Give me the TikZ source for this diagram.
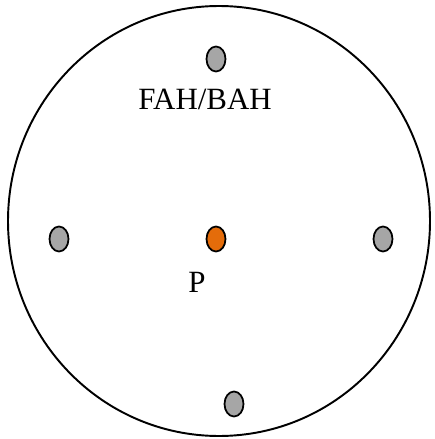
\documentclass[tikz,border=0pt]{standalone}
\usepackage{fontspec}
\setmainfont{Liberation Serif}
\usetikzlibrary{shapes.geometric}

\definecolor{dotgray}{RGB}{166,166,166}
\definecolor{dotorange}{RGB}{228,108,10}

\tikzset{
  hole/.style={draw, ellipse, line width=1pt, fill=dotgray, minimum width=0.38cm, minimum height=0.5cm, inner sep=0pt},
  lbl/.style={font=\fontsize{17.6}{20}\selectfont, anchor=base, inner sep=0pt}
}

\begin{document}
\begin{tikzpicture}[x=0.02cm, y=-0.02cm]
  \useasboundingbox (0,0) rectangle (434,439);
  % outer boundary
  \draw[line width=1.1pt] (219,221) ellipse [x radius=211, y radius=215];

  % gray holes
  \foreach \name/\px/\py in {top/216/59, left/59/239, right/383/239, bottom/234/404} {
    \node[hole] (h\name) at (\px,\py) {};
  }
  % centre point
  \node[hole, fill=dotorange] (hp) at (216,239) {};

  % labels
  \node[lbl] (fah) at (205,110) {FAH/BAH};
  \node[lbl] (p) at (197,292) {P};
\end{tikzpicture}
\end{document}
